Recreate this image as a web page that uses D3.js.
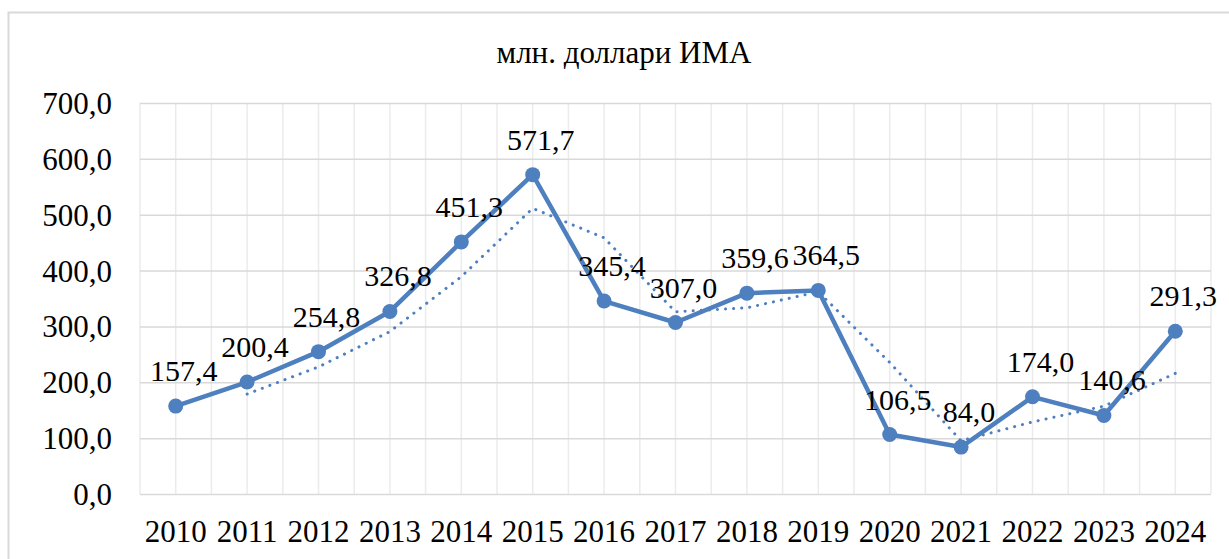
<!DOCTYPE html>
<html>
<head>
<meta charset="utf-8">
<script src="https://cdn.jsdelivr.net/npm/d3@7"></script>
<style>
    html, body { margin: 0; padding: 0; background: #fff; }
    svg { display: block; }
</style>
</head>
<body>
<svg id="chart" width="1229" height="559"></svg>
<script>
(function() {
    'use strict';

    // Data
    const years = ['2010', '2011', '2012', '2013', '2014', '2015', '2016', '2017',
                   '2018', '2019', '2020', '2021', '2022', '2023', '2024'];
    const values = [157.4, 200.4, 254.8, 326.8, 451.3, 571.7, 345.4, 307.0,
                    359.6, 364.5, 106.5, 84.0, 174.0, 140.6, 291.3];
    // dotted trend line (2-period moving average), starts at 2011
    const trendYears = years.slice(1);
    const trendValues = [178.9, 227.6, 290.8, 389.1, 511.5, 458.6, 326.2,
                         333.3, 362.1, 235.5, 95.3, 129.0, 157.3, 216.0];
    const yTicks = [0, 100, 200, 300, 400, 500, 600, 700];
    const title = 'млн. доллари ИМА';

    const W = 1229, H = 559;
    const margin = { top: 103, right: 18, bottom: 65, left: 140 };
    const width = W - margin.left - margin.right;
    const height = H - margin.top - margin.bottom;
    const blue = '#4e7fbf';
    const serif = "'Liberation Serif', 'Times New Roman', serif";

    const fmt = v => d3.format('.1f')(v).replace('.', ',');

    const svg = d3.select('#chart');

    // chart area border
    svg.append('rect')
        .attr('x', 8.5)
        .attr('y', 12.5)
        .attr('width', 1240)
        .attr('height', 600)
        .attr('fill', '#fff')
        .attr('stroke', '#d9d9d9')
        .attr('stroke-width', 2);

    // title
    svg.append('text')
        .attr('x', 624)
        .attr('y', 63)
        .attr('text-anchor', 'middle')
        .style('font-family', serif)
        .style('font-size', '31px')
        .style('fill', '#000')
        .text(title);

    const g = svg.append('g')
        .attr('transform', `translate(${margin.left},${margin.top})`);

    const x = d3.scaleBand().domain(years).range([0, width]).padding(0);
    const cx = d => x(d) + x.bandwidth() / 2;
    const y = d3.scaleLinear().domain([0, 700]).range([height, 0]);

    // vertical gridlines at band edges and centers
    const vLines = [];
    years.forEach(d => { vLines.push(x(d)); vLines.push(cx(d)); });
    vLines.push(width);
    g.selectAll('.vgrid')
        .data(vLines)
        .enter()
        .append('line')
        .attr('class', 'vgrid')
        .attr('x1', d => d).attr('x2', d => d)
        .attr('y1', 0).attr('y2', height)
        .attr('stroke', '#ebebeb')
        .attr('stroke-width', 1.5);

    // horizontal gridlines
    g.append('g')
        .call(d3.axisLeft(y).tickValues(yTicks).tickSize(-width).tickFormat(''))
        .call(a => a.select('.domain').remove())
        .selectAll('line')
        .attr('stroke', '#d9d9d9')
        .attr('stroke-width', 1.5);

    // Y axis labels
    g.append('g')
        .attr('transform', 'translate(-28,0)')
        .call(d3.axisLeft(y).tickValues(yTicks).tickSize(0).tickFormat(fmt))
        .call(a => a.select('.domain').remove())
        .selectAll('text')
        .attr('x', 0)
        .attr('dy', '0.34em')
        .style('font-size', '31px')
        .style('font-family', serif)
        .style('fill', '#000');

    // X axis labels
    g.append('g')
        .attr('transform', `translate(0,${height})`)
        .call(d3.axisBottom(x).tickSize(0))
        .call(a => a.select('.domain').remove())
        .selectAll('text')
        .attr('y', 26)
        .attr('dy', '0.71em')
        .style('font-size', '31px')
        .style('font-family', serif)
        .style('fill', '#000');

    // dotted trend line
    const trendLine = d3.line()
        .x((d, i) => cx(trendYears[i]))
        .y(d => y(d));
    g.append('path')
        .datum(trendValues)
        .attr('fill', 'none')
        .attr('stroke', blue)
        .attr('stroke-width', 3)
        .attr('stroke-linecap', 'round')
        .attr('stroke-dasharray', '0.1 8')
        .attr('d', trendLine);

    // main line
    const line = d3.line()
        .x((d, i) => cx(years[i]))
        .y(d => y(d));
    g.append('path')
        .datum(values)
        .attr('fill', 'none')
        .attr('stroke', blue)
        .attr('stroke-width', 4.5)
        .attr('stroke-linejoin', 'round')
        .attr('d', line);

    // markers
    g.selectAll('.dot')
        .data(values)
        .enter()
        .append('circle')
        .attr('class', 'dot')
        .attr('cx', (d, i) => cx(years[i]))
        .attr('cy', d => y(d))
        .attr('r', 7.5)
        .attr('fill', blue);

    // value labels
    g.selectAll('.value-label')
        .data(values)
        .enter()
        .append('text')
        .attr('class', 'value-label')
        .attr('x', (d, i) => cx(years[i]) + 8)
        .attr('y', d => y(d) - 25)
        .attr('text-anchor', 'middle')
        .style('font-family', serif)
        .style('font-size', '30px')
        .style('fill', '#000')
        .text(d => fmt(d));
})();
</script>
</body>
</html>
